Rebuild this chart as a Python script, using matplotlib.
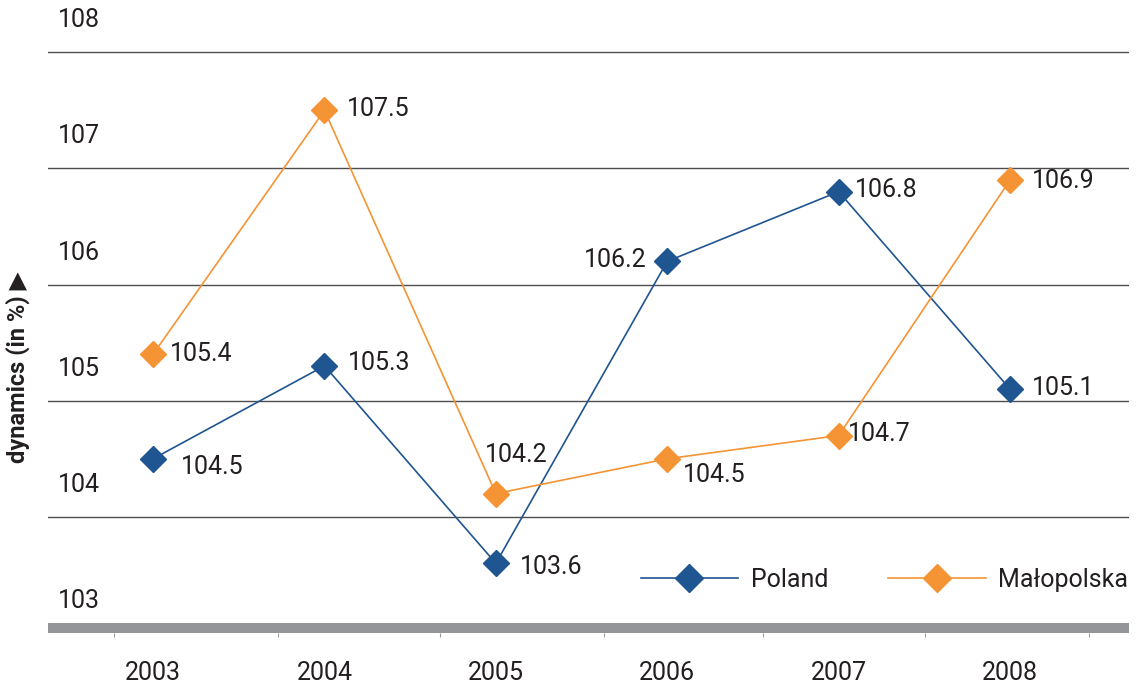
import matplotlib
matplotlib.use("Agg")
import matplotlib.pyplot as plt

plt.rcParams['font.family'] = ['Roboto', 'DejaVu Sans']

years = ["2003", "2004", "2005", "2006", "2007", "2008"]
poland = [104.5, 105.3, 103.6, 106.2, 106.8, 105.1]
malopolska = [105.4, 107.5, 104.2, 104.5, 104.7, 106.9]
y_levels = [103, 104, 105, 106, 107, 108]

# label offsets in points (dx, dy), ha
pol_off = [(20, -6, 'left'), (17, 2, 'left'), (17, -3, 'left'),
           (-15, 1, 'right'), (12, 1, 'left'), (16, 1, 'left')]
mal_off = [(12, 0, 'left'), (16, 1, 'left'), (-8, 28, 'left'),
           (11, -12, 'left'), (7, 1, 'left'), (16, -1, 'left')]

BLUE = "#1f5590"
ORANGE = "#f59434"
TXT = "#231f20"

fig = plt.figure(figsize=(11.36, 6.87), dpi=100)
ax = fig.add_axes([48 / 1136, 1 - 633 / 687, 1081 / 1136, 633 / 687])
x = list(range(len(years)))

ax.set_xlim(-0.613, 5.694)
ax.set_ylim(103, 108.45)

for v in y_levels[1:]:
    ax.axhline(v, color="#4d4d4f", lw=1.0, zorder=1)
ax.axhspan(103, 103.086, color="#939598", lw=0, zorder=1, clip_on=False)

ax.plot(x, poland, color=BLUE, lw=1.2, marker="D", ms=13, mfc=BLUE, mec=BLUE,
        label="Poland", zorder=3)
ax.plot(x, malopolska, color=ORANGE, lw=1.2, marker="D", ms=13, mfc=ORANGE,
        mec=ORANGE, label="Małopolska", zorder=3)

for xi, v, (dx, dy, ha) in zip(x, poland, pol_off):
    ax.annotate(f"{v:.1f}", (xi, v), xytext=(dx, dy), textcoords="offset points",
                ha=ha, va="center", fontsize=18, color=TXT, zorder=4)
for xi, v, (dx, dy, ha) in zip(x, malopolska, mal_off):
    ax.annotate(f"{v:.1f}", (xi, v), xytext=(dx, dy), textcoords="offset points",
                ha=ha, va="center", fontsize=18, color=TXT, zorder=4)

# y labels sit above their gridlines
for v in y_levels:
    ax.annotate(str(v), (0, v), xycoords=("axes fraction", "data"),
                xytext=(7, 23), textcoords="offset points",
                ha="left", va="center", fontsize=18, color=TXT)

ax.set_yticks([])
ax.set_xticks(x)
ax.set_xticklabels(years, fontsize=18, color=TXT)
ax.tick_params(axis="x", which="major", length=0, pad=20)
ax.set_xticks([-0.228, 0.729, 1.674, 2.631, 3.559, 4.504, 5.461], minor=True)
ax.tick_params(axis="x", which="minor", length=3, width=0.8, color="#9a9a9a")
for s in ax.spines.values():
    s.set_visible(False)

fig.text(18 / 1136, 1 - 367 / 687, "dynamics (in %) ▶", rotation=90,
         ha="center", va="center", fontsize=17, fontweight="bold", color=TXT)

ax.legend(loc="center right", bbox_to_anchor=(1.02, 0.084), ncol=2, frameon=False,
          fontsize=18, handlelength=3.9, handletextpad=0.5, columnspacing=2.4,
          labelcolor=TXT, markerscale=1.1)

fig.savefig("out.png", dpi=100)
